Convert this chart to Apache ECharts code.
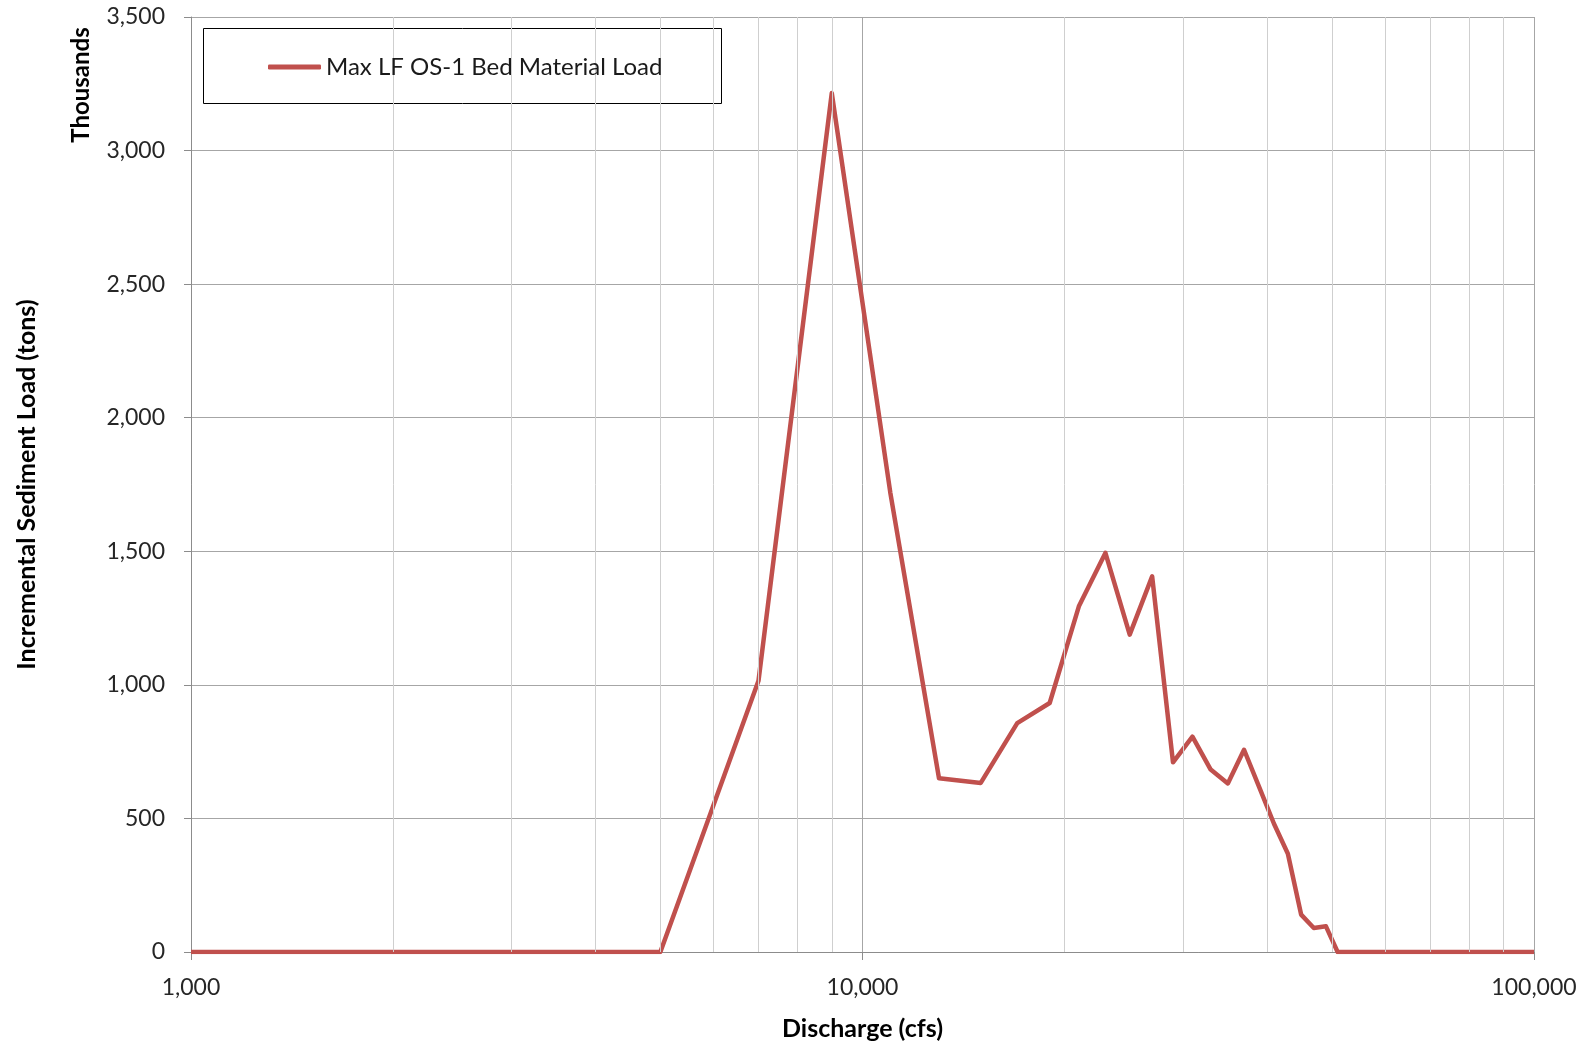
<!DOCTYPE html>
<html>
<head>
<meta charset="utf-8">
<script src="https://cdn.jsdelivr.net/npm/echarts@6/dist/echarts.min.js"></script>
<style>
html,body{margin:0;padding:0;background:#fff;}
#chart{width:1587px;height:1046px;}
</style>
</head>
<body>
<div id="chart"></div>
<script>
// Discharge (cfs)
const discharge = [1000, 3000, 5000, 7000, 9000, 11000, 13000, 15000, 17000, 19000, 21000, 23000, 25000, 27000, 29000, 31000, 33000, 35000, 37000, 39000, 41000, 43000, 45000, 47000, 49000, 51000, 100000];
// Incremental sediment load (thousands of tons)
const load = [0, 0, 0, 1015, 3215, 1720, 650, 633, 857, 932, 1294, 1494, 1188, 1406, 710, 806, 683, 631, 757, 615, 480, 368, 140, 90, 96, 0, 0];
const seriesName = 'Max LF OS-1 Bed Material Load';
const minorGridValues = [2000, 3000, 4000, 5000, 6000, 7000, 8000, 9000, 20000, 30000, 40000, 50000, 60000, 70000, 80000, 90000];
const yTicks = {min: 0, max: 3500, interval: 500};
const xRange = {min: 1000, max: 100000};

const FONT = 'Lato, "Open Sans", sans-serif';
const fmt = v => Number(v).toLocaleString('en-US');

const chart = echarts.init(document.getElementById('chart'), null, {renderer: 'canvas'});
chart.setOption({
  animation: false,
  backgroundColor: '#ffffff',
  textStyle: {fontFamily: FONT},
  grid: {left: 191, right: 53, top: 17, bottom: 92, containLabel: false},
  legend: {
    data: [{name: seriesName, icon: 'roundRect'}],
    left: 268, top: 55, padding: 0,
    itemWidth: 53, itemHeight: 5, itemGap: 4,
    itemStyle: {color: '#C0504D', borderWidth: 0},
    textStyle: {fontFamily: FONT, fontSize: 24, color: '#1a1a1a', padding: [0, 0, 0, 0]},
    z: 10
  },
  graphic: [
    {type: 'rect', shape: {x: 203.5, y: 28.5, width: 518, height: 75}, style: {fill: '#fff', stroke: '#000', lineWidth: 1}, z: 5, silent: true},
    {type: 'text', x: 81, y: 85, rotation: Math.PI / 2, style: {text: 'Thousands', font: 'bold 24px ' + FONT, fill: '#000', align: 'center', verticalAlign: 'middle'}, silent: true}
  ],
  xAxis: {
    type: 'log', logBase: 10, min: xRange.min, max: xRange.max,
    name: 'Discharge (cfs)', nameLocation: 'middle', nameGap: 64,
    nameTextStyle: {fontFamily: FONT, fontSize: 25, fontWeight: 'bold', color: '#000'},
    axisLine: {show: true, lineStyle: {color: '#8c8c8c', width: 1}},
    axisTick: {show: true, length: 8, lineStyle: {color: '#8c8c8c'}},
    axisLabel: {fontFamily: FONT, fontSize: 23, color: '#262626', margin: 24, formatter: fmt},
    splitLine: {show: true, lineStyle: {color: '#a6a6a6', width: 1}},
    minorTick: {show: false}, minorSplitLine: {show: false}
  },
  yAxis: {
    type: 'value', min: yTicks.min, max: yTicks.max, interval: yTicks.interval,
    name: 'Incremental Sediment Load (tons)', nameLocation: 'middle', nameGap: 152,
    nameTextStyle: {fontFamily: FONT, fontSize: 25, fontWeight: 'bold', color: '#000'},
    axisLine: {show: true, lineStyle: {color: '#8c8c8c', width: 1}},
    axisTick: {show: true, length: 7, lineStyle: {color: '#8c8c8c'}},
    axisLabel: {fontFamily: FONT, fontSize: 23, color: '#262626', margin: 26, formatter: fmt},
    splitLine: {show: true, lineStyle: {color: '#a6a6a6', width: 1.2}}
  },
  series: [
    {
      name: 'minor-grid', type: 'line', data: [], z: 1, silent: true,
      symbol: 'none', lineStyle: {opacity: 0},
      markLine: {
        silent: true, symbol: ['none', 'none'], animation: false,
        label: {show: false},
        lineStyle: {color: '#cfcfcf', width: 1, type: 'solid'},
        emphasis: {disabled: true},
        data: minorGridValues.map(v => ({xAxis: v}))
      }
    },
    {
      name: seriesName, type: 'line', z: 3,
      data: discharge.map((d, i) => [d, load[i]]),
      symbol: 'none', smooth: false,
      lineStyle: {color: '#C0504D', width: 4.5, join: 'round'},
      itemStyle: {color: '#C0504D'}
    }
  ]
});
</script>
</body>
</html>
